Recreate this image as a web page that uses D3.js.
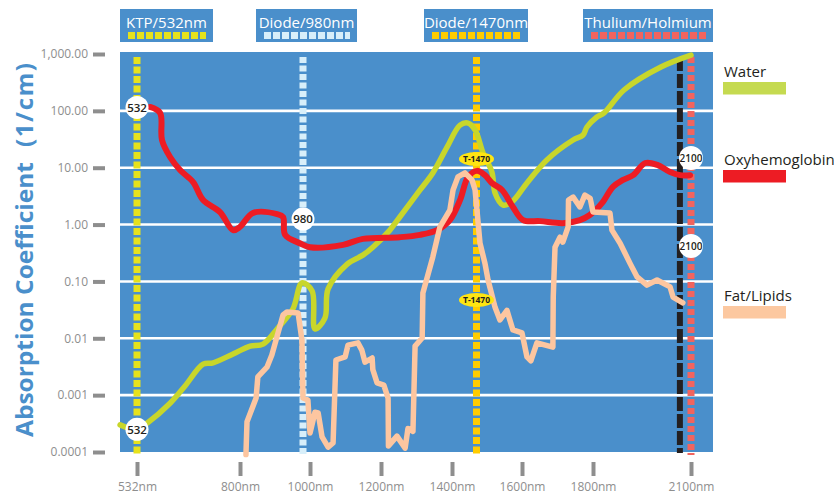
<!DOCTYPE html>
<html>
<head>
<meta charset="utf-8">
<script src="https://cdn.jsdelivr.net/npm/d3@7"></script>
<style>
    body { margin: 0; background: #fff; }
    svg { display: block; font-family: "Open Sans", sans-serif; }
</style>
</head>
<body>
<script>
// axis ticks
const xTicks = [532, 800, 1000, 1200, 1400, 1600, 1800, 2100];
const xTickLabels = ["532nm", "800nm", "1000nm", "1200nm", "1400nm", "1600nm", "1800nm", "2100nm"];
const yTicks = [1000, 100, 10, 1, 0.1, 0.01, 0.001, 0.0001];
const yTickLabels = ["1,000.00", "100.00", "10.00", "1.00", "0.10", "0.01", "0.001", "0.0001"];

// absorption spectra (nm, 1/cm)
const waterNm = [488, 532, 558, 618, 657, 704, 730, 782, 829, 866, 906, 951, 977, 1006, 1014, 1042, 1051, 1104, 1149, 1177, 1225, 1253, 1310, 1346, 1386, 1423, 1446, 1466, 1489, 1514, 1523, 1546, 1571, 1614, 1670, 1744, 1772, 1783, 1812, 1834, 1895, 2008, 2100];
const waterAbs = [3.0e-4, 2.5e-4, 3.2e-4, 7.2e-4, 1.45e-3, 3.5e-3, 3.7e-3, 5.3e-3, 7.3e-3, 7.9e-3, 0.0146, 0.0327, 0.094, 0.068, 0.0146, 0.0227, 0.074, 0.20, 0.29, 0.40, 0.80, 1.36, 4.06, 8.1, 23, 56, 61, 46, 18, 8.4, 3.6, 2.2, 2.5, 5.4, 13.7, 30.7, 37.6, 52, 78, 92, 233, 590, 955];

const oxyNm = [566, 592, 597, 618, 644, 678, 704, 748, 782, 800, 837, 906, 923, 929, 971, 1000, 1093, 1149, 1253, 1310, 1358, 1394, 1423, 1446, 1471, 1494, 1514, 1543, 1574, 1603, 1651, 1715, 1763, 1791, 1828, 1861, 1892, 1923, 1960, 1997, 2036, 2067, 2097];
const oxyAbs = [117, 92, 30.7, 15.4, 9.1, 5.6, 2.7, 1.66, 0.80, 0.91, 1.6, 1.53, 1.36, 0.66, 0.47, 0.40, 0.44, 0.56, 0.60, 0.66, 0.80, 1.2, 2.7, 6.9, 8.8, 7.4, 5.4, 4.06, 2.04, 1.2, 1.15, 1.06, 1.2, 1.47, 2.4, 4.6, 6.1, 7.4, 12.1, 11.2, 8.4, 7.4, 7.4];

const fatNm = [817, 820, 846, 851, 877, 891, 923, 934, 966, 977, 980, 994, 1000, 1014, 1023, 1034, 1051, 1065, 1073, 1099, 1107, 1135, 1146, 1155, 1175, 1177, 1189, 1208, 1220, 1221, 1245, 1268, 1276, 1290, 1296, 1316, 1318, 1346, 1366, 1394, 1403, 1417, 1437, 1457, 1466, 1480, 1494, 1503, 1523, 1537, 1557, 1574, 1600, 1614, 1625, 1642, 1687, 1688, 1693, 1707, 1715, 1730, 1731, 1744, 1763, 1777, 1792, 1800, 1852, 1858, 1883, 1913, 1935, 1965, 1996, 2036, 2045, 2075];
const fatAbs = [9e-5, 3.4e-4, 8.9e-4, 2.1e-3, 3.1e-3, 5.1e-3, 0.0257, 0.029, 0.0279, 9.3e-3, 8.9e-4, 8.2e-4, 2.16e-4, 5.0e-4, 4.85e-4, 1.84e-4, 1.22e-4, 1.44e-4, 4.15e-3, 4.7e-3, 7.6e-3, 8.3e-3, 6.2e-3, 3.8e-3, 4.5e-3, 2.8e-3, 1.64e-3, 1.5e-3, 8.9e-4, 1.28e-4, 1.9e-4, 1.17e-4, 2.6e-4, 2.3e-4, 7.3e-3, 0.0101, 0.0625, 0.27, 0.91, 1.8, 4.06, 6.9, 8.1, 6.1, 4.06, 0.47, 0.21, 0.106, 0.035, 0.021, 0.031, 0.014, 0.0124, 4.7e-3, 4.0e-3, 8.3e-3, 7.0e-3, 0.053, 0.40, 0.60, 0.49, 0.91, 2.7, 3.05, 2.04, 3.3, 2.9, 1.66, 1.6, 0.80, 0.47, 0.21, 0.12, 0.086, 0.106, 0.080, 0.053, 0.042];

// lasers
const laserLabels = ["KTP/532nm", "Diode/980nm", "Diode/1470nm", "Thulium/Holmium"];
const laserNm = [532, 980, 1470, 2100];
const holmiumNm = 2066;

// round markers on the laser lines
const markerLabels = ["532", "532", "980", "2100", "2100"];
const markerNm = [532, 532, 980, 2100, 2100];
const markerAbs = [115, 2.5e-4, 1.25, 14.8, 0.42];
const tMarkerAbs = [14.2, 0.047];

const seriesNames = ["Water", "Oxyhemoglobin", "Fat/Lipids"];

// styles
const laserColors = ["#e6e21c", "#d8effa", "#ffcc00", "#f2645e"];
const seriesColors = ["#c8d62b", "#ed1c24", "#fdc6a0"];
const legendColors = ["#c5da50", "#ed1c24", "#fcc8a0"];
const laserDash = ["7,2.5", "6,2.5", "7,2.5", "6,3"];
const boxLayout = [
    { x: 120, w: 93 },
    { x: 256, w: 101 },
    { x: 424, w: 104 },
    { x: 583, w: 130 },
];
const legendY = [77, 165, 301];
const BLUE = "#4a8fcb";
const GREY = "#8e8e8e";

const svg = d3.select("body").append("svg").attr("width", 834).attr("height", 496);

const x = d3.scaleLinear()
    .domain(xTicks)
    .range([137, 240, 310, 381, 452, 522, 593, 691]);
const y = d3.scaleLog().domain([1e-4, 1e3]).range([452, 54]);

// plot background
svg.append("rect")
    .attr("x", 120).attr("y", 52)
    .attr("width", 593).attr("height", 400)
    .attr("fill", BLUE);

// white grid lines
svg.append("g")
    .selectAll("line")
    .data(yTicks.slice(1, -1))
    .join("line")
    .attr("x1", 120).attr("x2", 713)
    .attr("y1", (d) => y(d)).attr("y2", (d) => y(d))
    .attr("stroke", "#fff")
    .attr("stroke-width", 2.6);

// laser lines
svg.append("line")
    .attr("x1", x(holmiumNm)).attr("x2", x(holmiumNm))
    .attr("y1", 57).attr("y2", 453)
    .attr("stroke", "#231f20")
    .attr("stroke-width", 6)
    .attr("stroke-dasharray", "14,3");

svg.append("g")
    .selectAll("line")
    .data(laserNm)
    .join("line")
    .attr("x1", (d) => x(d)).attr("x2", (d) => x(d))
    .attr("y1", 57).attr("y2", 455)
    .attr("stroke", (d, i) => laserColors[i])
    .attr("stroke-width", 7)
    .attr("stroke-dasharray", (d, i) => laserDash[i]);

// top label boxes
const boxes = svg.append("g")
    .selectAll("g")
    .data(laserLabels)
    .join("g")
    .attr("transform", (d, i) => `translate(${boxLayout[i].x},9)`);

boxes.append("rect")
    .attr("width", (d, i) => boxLayout[i].w)
    .attr("height", 33)
    .attr("fill", BLUE);

boxes.append("text")
    .attr("x", (d, i) => boxLayout[i].w / 2)
    .attr("y", 19)
    .attr("text-anchor", "middle")
    .attr("fill", "#fff")
    .attr("font-size", 15)
    .text((d) => d);

boxes.append("line")
    .attr("x1", 8)
    .attr("x2", (d, i) => boxLayout[i].w - 7)
    .attr("y1", 26.5).attr("y2", 26.5)
    .attr("stroke", (d, i) => laserColors[i])
    .attr("stroke-width", 7)
    .attr("stroke-dasharray", "7,2");

// curves
const line = d3.line()
    .x((d) => x(d[0]))
    .y((d) => y(d[1]));

const series = [
    d3.zip(waterNm, waterAbs),
    d3.zip(oxyNm, oxyAbs),
    d3.zip(fatNm, fatAbs),
];

svg.append("g")
    .selectAll("path")
    .data(series)
    .join("path")
    .attr("d", (d, i) => line.curve(i == 2 ? d3.curveLinear : d3.curveCatmullRom.alpha(0.5))(d))
    .attr("fill", "none")
    .attr("stroke", (d, i) => seriesColors[i])
    .attr("stroke-width", (d, i) => (i == 1 ? 6 : 5.5))
    .attr("stroke-linejoin", "round")
    .attr("stroke-linecap", "round");

// markers
const markers = svg.append("g")
    .selectAll("g")
    .data(markerLabels)
    .join("g")
    .attr("transform", (d, i) => `translate(${x(markerNm[i])},${y(markerAbs[i])})`);

markers.append("circle")
    .attr("r", (d) => (d.length > 3 ? 12 : 11.5))
    .attr("fill", "#fff");

markers.append("text")
    .attr("text-anchor", "middle")
    .attr("dy", "0.36em")
    .attr("font-size", (d) => (d.length > 3 ? 10 : 11.5))
    .attr("font-weight", 600)
    .attr("fill", "#231f20")
    .text((d) => d);

const tMarkers = svg.append("g")
    .selectAll("g")
    .data(tMarkerAbs)
    .join("g")
    .attr("transform", (d) => `translate(${x(1470)},${y(d)})`);

tMarkers.append("ellipse")
    .attr("rx", 17.5).attr("ry", 7)
    .attr("fill", "#ffe512");

tMarkers.append("text")
    .attr("text-anchor", "middle")
    .attr("dy", "0.35em")
    .attr("font-size", 8.5)
    .attr("font-weight", 700)
    .attr("fill", "#231f20")
    .text("T-1470");

// axes
const yAxis = d3.axisLeft(y)
    .tickValues(yTicks)
    .tickFormat((d) => yTickLabels[yTicks.indexOf(d)])
    .tickSize(12)
    .tickPadding(5);

svg.append("g")
    .attr("transform", "translate(105,0)")
    .call(yAxis)
    .call((g) => g.select(".domain").remove())
    .call((g) => g.selectAll(".tick line").attr("stroke", GREY).attr("stroke-width", 4))
    .call((g) => g.selectAll(".tick text")
        .attr("fill", GREY)
        .attr("font-size", 12)
        .attr("font-family", "Open Sans, sans-serif"));

const xAxis = d3.axisBottom(x)
    .tickValues(xTicks)
    .tickFormat((d) => xTickLabels[xTicks.indexOf(d)])
    .tickSize(14)
    .tickPadding(6);

svg.append("g")
    .attr("transform", "translate(0,462)")
    .call(xAxis)
    .call((g) => g.select(".domain").remove())
    .call((g) => g.selectAll(".tick line").attr("stroke", GREY).attr("stroke-width", 4))
    .call((g) => g.selectAll(".tick text")
        .attr("fill", GREY)
        .attr("font-size", 12)
        .attr("font-family", "Open Sans, sans-serif"));

// y title
svg.append("text")
    .attr("transform", "translate(33,437) rotate(-90)")
    .attr("textLength", 275)
    .attr("lengthAdjust", "spacingAndGlyphs")
    .attr("font-size", 24)
    .attr("font-weight", 700)
    .attr("fill", BLUE)
    .text("Absorption Coefficient");

svg.append("text")
    .attr("transform", "translate(33,147) rotate(-90)")
    .attr("textLength", 84)
    .attr("lengthAdjust", "spacing")
    .attr("font-size", 24)
    .attr("font-weight", 700)
    .attr("fill", BLUE)
    .text("(1/cm)");

// legend
const legend = svg.append("g")
    .selectAll("g")
    .data(seriesNames)
    .join("g")
    .attr("transform", (d, i) => `translate(723,${legendY[i]})`);

legend.append("text")
    .attr("x", 1)
    .attr("font-size", 15)
    .attr("fill", "#231f20")
    .text((d) => d);

legend.append("rect")
    .attr("y", 5)
    .attr("width", 63)
    .attr("height", 12.5)
    .attr("fill", (d, i) => legendColors[i]);
</script>
</body>
</html>
